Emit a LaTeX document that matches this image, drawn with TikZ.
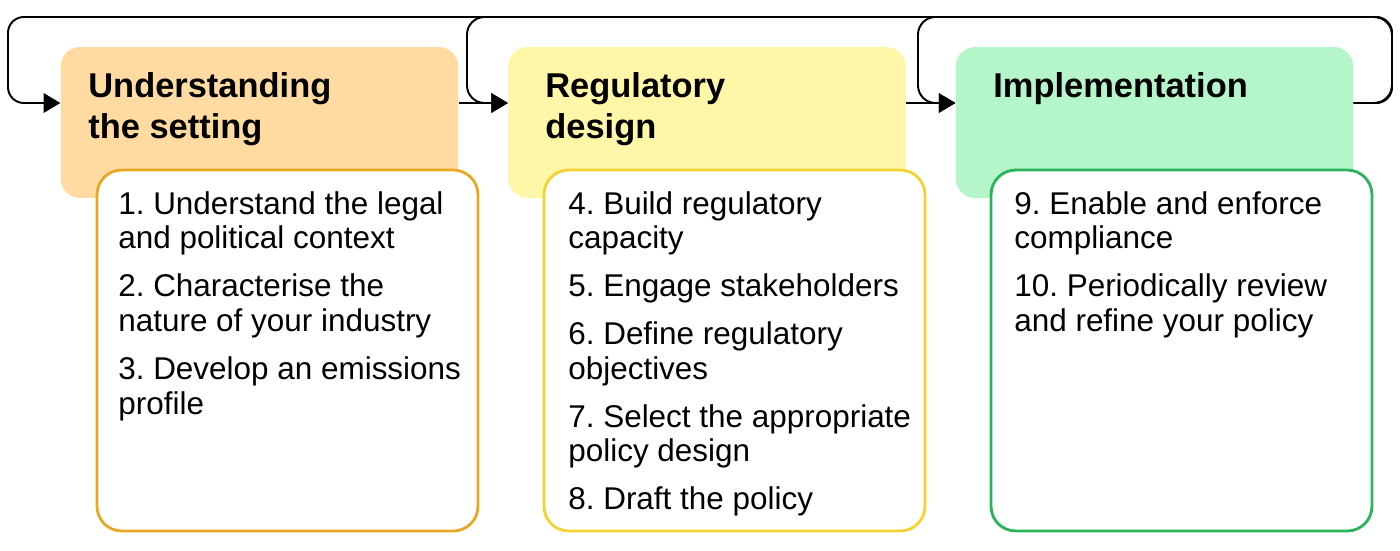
\documentclass[tikz,border=0pt]{standalone}
\usepackage{fontspec}
\setmainfont{Liberation Sans}
\usetikzlibrary{positioning,arrows.meta}
\frenchspacing

\definecolor{setfill}{HTML}{FFDBA1}
\definecolor{setline}{HTML}{E9A823}
\definecolor{desfill}{HTML}{FFF6A8}
\definecolor{desline}{HTML}{F6D134}
\definecolor{impfill}{HTML}{B4F6C9}
\definecolor{impline}{HTML}{2AB45B}

\tikzset{
  headbox/.style={rounded corners=11pt, minimum width=7.95cm, minimum height=3.02cm, inner sep=0pt},
  listbox/.style={draw, line width=1.6pt, fill=white, rounded corners=14pt, minimum width=7.62cm, minimum height=7.22cm, inner sep=0pt},
  headtext/.style={anchor=north west, inner sep=0pt, align=left, font=\fontsize{19.6}{23.2}\selectfont\bfseries},
  listtext/.style={anchor=north west, inner sep=0pt, align=left, font=\fontsize{17.9}{19.8}\selectfont},
  arr/.style={line width=1.1pt, -{Triangle[length=9.5pt,width=11pt]}}
}

\begin{document}
\begin{tikzpicture}[x=0.02cm, y=-0.02cm]
    \useasboundingbox (0,0) rectangle (1400,551);

    % Stage boxes
    \foreach \n/\x/\c in {A/259.5/set, B/707/des, C/1154.5/imp}
        \node[headbox, fill=\c fill] (head\n) at (\x,122.5) {};
    \foreach \n/\x/\c in {A/287.5/set, B/734.5/des, C/1181.5/imp}
        \node[listbox, draw=\c line] (list\n) at (\x,350.5) {};

    % Stage titles
    \node[headtext] (titleA) at (88,72) {Understanding\\the setting};
    \node[headtext] (titleB) at (545,72) {Regulatory\\design};
    \node[headtext] (titleC) at (993,72) {Implementation};

    % Steps
    \node[listtext] (stepsA) at (118,191) {1. Understand the legal\\and political context\\[7.4pt]
        2. Characterise the\\nature of your industry\\[7.4pt]
        3. Develop an emissions\\profile};
    \node[listtext] (stepsB) at (568,191) {4. Build regulatory\\capacity\\[7.4pt]
        5. Engage stakeholders\\[7.4pt]
        6. Define regulatory\\objectives\\[7.4pt]
        7. Select the appropriate\\policy design\\[7.4pt]
        8. Draft the policy};
    \node[listtext] (stepsC) at (1014,191) {9. Enable and enforce\\compliance\\[7.4pt]
        10. Periodically review\\and refine your policy};

    % Forward arrows
    \draw[arr] ([yshift=0.39cm]headA.east) -- ([yshift=0.39cm]headB.west);
    \draw[arr] ([yshift=0.39cm]headB.east) -- ([yshift=0.39cm]headC.west);

    % Feedback loops
    \coordinate (loopR) at (1392,17);
    \draw[arr, rounded corners=9pt] ([yshift=0.39cm]headC.east) -| (loopR) -- (8,17) |- ([yshift=0.39cm]headA.west);
    \draw[arr, rounded corners=10pt] ([yshift=0.39cm]headC.east) -| (loopR) -- (467,17) |- ([yshift=0.39cm]headB.west);
    \draw[arr, rounded corners=10pt] ([yshift=0.39cm]headC.east) -| (loopR) -- (918,17) |- ([yshift=0.39cm]headC.west);
\end{tikzpicture}
\end{document}
